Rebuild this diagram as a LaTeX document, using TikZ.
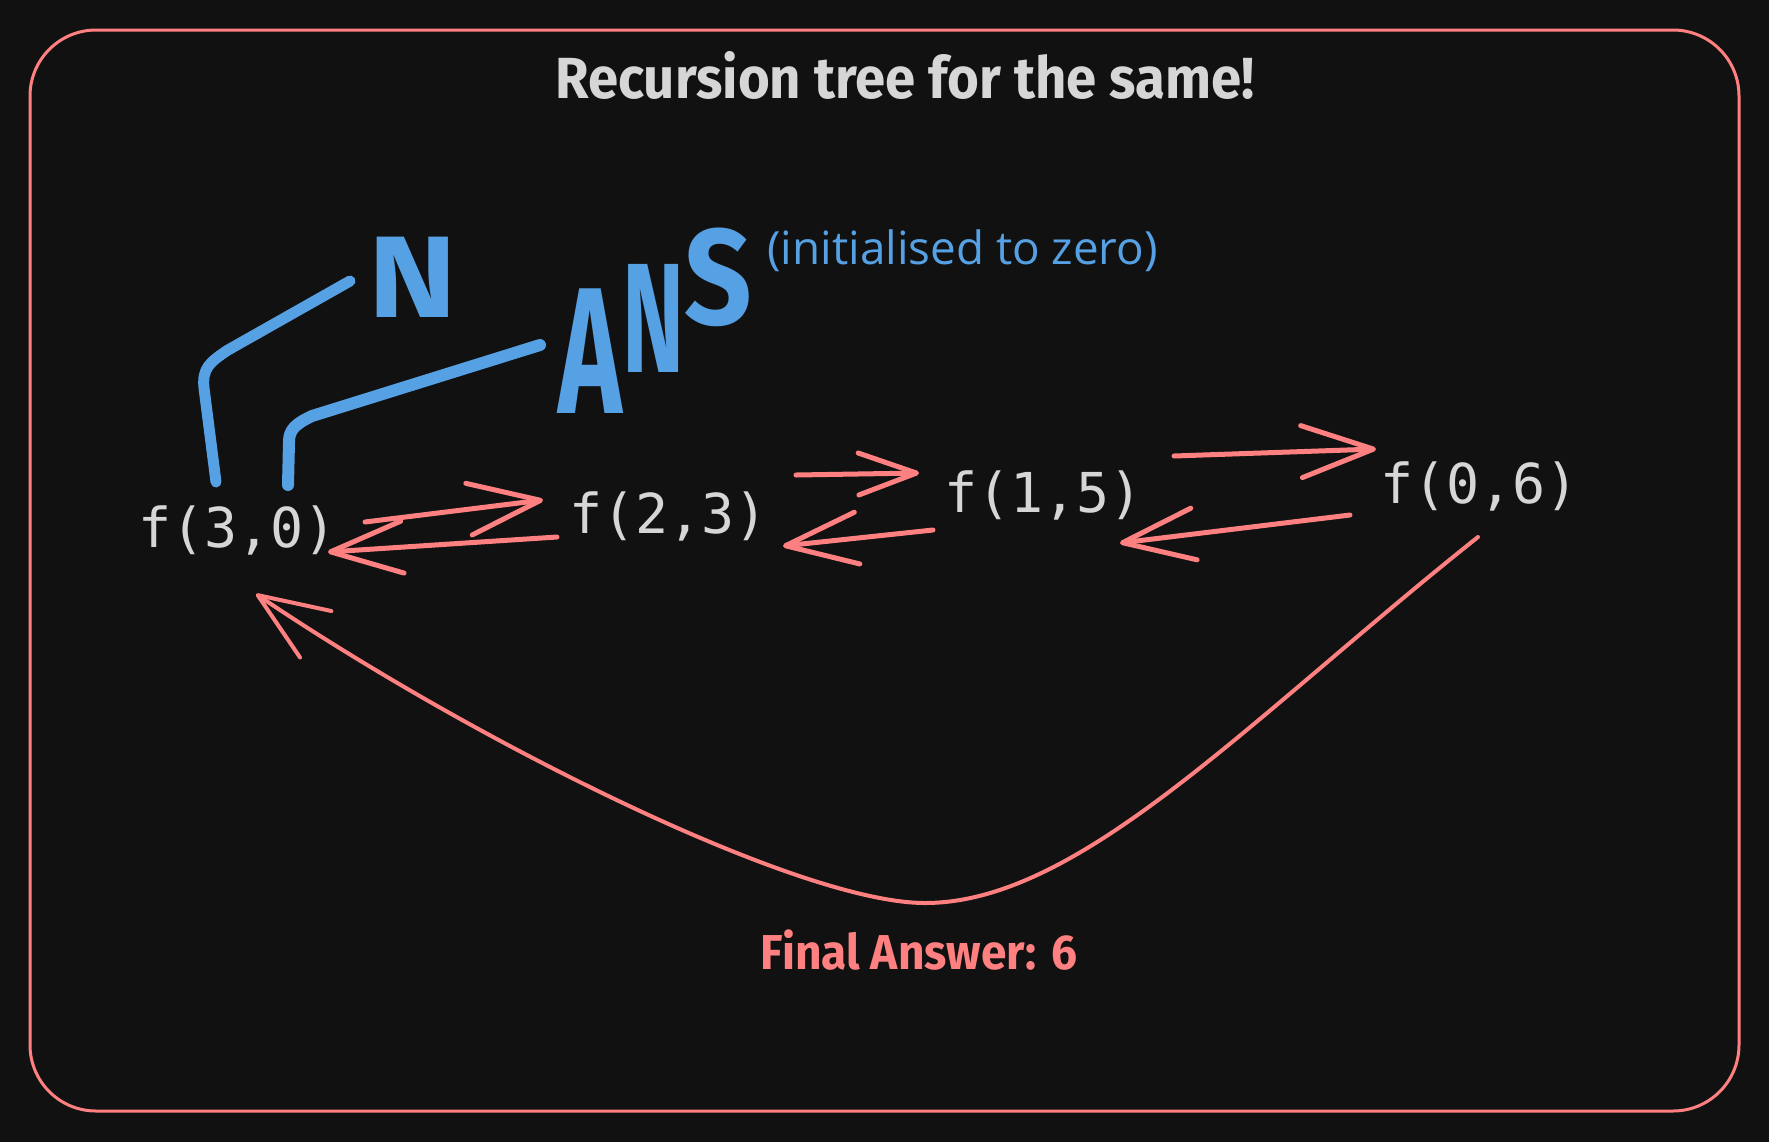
\documentclass[tikz,border=0pt]{standalone}
\usepackage{fontspec}
\setmainfont{Open Sans}
\newfontfamily\headfont{Fira Sans}[FakeStretch=0.94]
\newfontfamily\handfont{Fira Sans}
\newfontfamily\codefont{DejaVu Sans Mono}
\usetikzlibrary{arrows.meta, calc}
\definecolor{boardbg}{RGB}{17,17,17}
\definecolor{chalk}{RGB}{214,214,214}
\definecolor{salmon}{RGB}{255,128,128}
\definecolor{markblue}{RGB}{86,160,228}
\tikzset{
  fcall/.style={anchor=base west, inner sep=0pt, text=chalk, font=\codefont\fontsize{27.5}{30}\selectfont},
  callarrow/.style={salmon, line width=2.5pt, line cap=round, line join=round, -{Straight Barb[length=36pt,width=26pt,round]}},
  marker/.style={markblue, line width=5.5pt, line cap=round, line join=round},
  handlabel/.style={inner sep=0pt, text depth=0pt, text=markblue},
}

\begin{document}
\begin{tikzpicture}[x=0.5pt,y=-0.5pt]
  \fill[boardbg] (0,0) rectangle (1769,1142);
  \useasboundingbox (0,0) rectangle (1769,1142);
  \draw[salmon, line width=1.5pt, rounded corners=33pt] (30,30) rectangle (1739,1111);

  \node[anchor=base, inner sep=0pt, text=chalk, font=\headfont\bfseries\fontsize{29}{32}\selectfont] (title) at (905,98) {Recursion tree for the same!};

  \node[fcall] (f30) at (138,547) {f(3,0)};
  \node[fcall] (f23) at (569,533) {f(2,3)};
  \node[fcall] (f15) at (944,512) {f(1,5)};
  \node[fcall] (f06) at (1380,503) {f(0,6)};

  \node[handlabel, anchor=base, text height=40pt, font=\handfont\bfseries\fontsize{58}{60}\selectfont] (nlabel) at (413,317) {\scalebox{1.15}[1]{N}};
  \node[handlabel, anchor=base west, font=\handfont\bfseries] (anslabel) at (558,413) {\scalebox{0.6}[1]{\fontsize{90}{92}\selectfont A\raisebox{20.5pt}{\fontsize{78}{80}\selectfont N}\raisebox{44.5pt}{\scalebox{1.45}[1]{\fontsize{68}{70}\selectfont S}}}};
  \node[anchor=base west, inner sep=0pt, text=markblue, font=\fontsize{22.9}{26}\selectfont] (initnote) at (767,264) {(initialised to zero)};

  \coordinate (nfoot) at (350,281);
  \coordinate (ansfoot) at (540,345);
  \draw[marker] ([shift={(78,-65)}]f30.base west) -- (204,388) .. controls (202,368) and (210,362) .. (228,350) -- (nfoot);
  \draw[marker, line width=6pt] ([shift={(150,-62)}]f30.base west) -- (289,442) .. controls (289,430) and (295,424) .. (312,416) -- (ansfoot);

  \draw[callarrow] ([shift={(227,-25)}]f30.base west) -- ([shift={(-26,-33)}]f23.base west);
  \draw[callarrow] ([shift={(-12,4)}]f23.base west) -- ([shift={(190,5)}]f30.base west);
  \draw[callarrow, -{Straight Barb[length=29pt,width=21pt,round]}] ([shift={(227,-58)}]f23.base west) -- ([shift={(-25,-39)}]f15.base west);
  \draw[callarrow] ([shift={(-11,18)}]f15.base west) -- ([shift={(214,13)}]f23.base west);
  \draw[callarrow] ([shift={(230,-56)}]f15.base west) -- ([shift={(-4,-54)}]f06.base west);
  \draw[callarrow] ([shift={(-30,12)}]f06.base west) -- ([shift={(176,31)}]f15.base west);
  \draw[callarrow, line width=2pt, -{Straight Barb[length=35pt,width=28pt,round]}] ([shift={(98,34)}]f06.base west) .. controls (1248,720) and (1080,903) .. (925,903) .. controls (800,903) and (480,745) .. ([shift={(118,47)}]f30.base west);

  \node[anchor=base, inner sep=0pt, text=salmon, font=\headfont\bfseries\fontsize{24.5}{28}\selectfont] (answer) at (919,969) {Final Answer: 6};
\end{tikzpicture}
\end{document}
